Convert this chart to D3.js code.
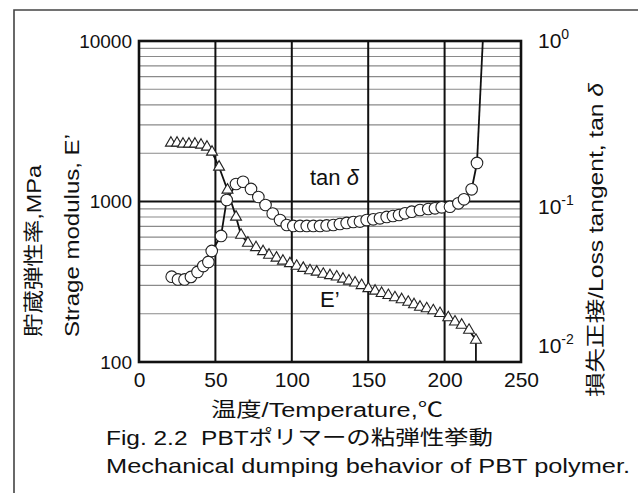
<!DOCTYPE html>
<html>
<head>
<meta charset="utf-8">
<script src="https://cdn.jsdelivr.net/npm/d3@7"></script>
<style>
  html, body { margin: 0; padding: 0; background: #fff; }
  svg { display: block; }
  text { font-family: "Liberation Sans", Arial, "Noto Sans CJK JP", sans-serif; fill: #111; white-space: pre; }
</style>
</head>
<body>
<svg id="chart" width="638" height="493"></svg>
<script>
// Temperature (°C) and storage modulus E' (MPa), triangle markers
const tempE = [20.9, 24.9, 28.8, 32.7, 36.6, 40.6, 44.5, 47.8, 52.4, 57.9, 63.5, 66.8, 71.3, 76.6,
  81.2, 85.1, 90.0, 94.2, 98.8, 103.2, 107.5, 111.9, 116.3, 120.6, 125.0, 129.4, 133.5, 137.4,
  141.4, 145.7, 150.1, 154.5, 158.8, 163.2, 167.5, 171.9, 176.2, 180.0, 183.9, 188.3, 192.6,
  197.0, 202.4, 206.8, 211.2, 216.0, 220.5];
const modulusE = [2315, 2315, 2282, 2282, 2282, 2249, 2186, 2034, 1641, 1180, 801, 618, 551, 517,
  488, 464, 445, 426, 411, 396, 384, 371, 364, 353, 346, 339, 329, 320,
  311, 300, 287, 277, 268, 260, 252, 245, 236, 228, 220, 215, 209,
  201, 189, 178, 170, 158, 137];
// E' trace continues straight down after the last reading
const tailTempE = [220.5, 220.5];
const tailModulusE = [137, 100];

// Temperature (°C) and loss tangent tan δ, circle markers
const tempTan = [21.4, 25.5, 29.8, 34.0, 38.3, 42.1, 45.4, 47.6, 53.7, 57.4, 63.5, 68.1, 73.3, 78.1,
  82.8, 87.5, 92.3, 96.7, 101.0, 105.4, 109.8, 114.1, 118.5, 122.8, 127.2, 131.5, 135.9, 140.3,
  144.6, 149.0, 153.3, 157.7, 162.1, 166.2, 170.2, 174.1, 178.5, 183.9, 189.3, 193.7, 198.1,
  203.5, 209.0, 212.7, 217.7, 221.2];
const tanDelta = [0.0340, 0.0327, 0.0327, 0.0339, 0.0364, 0.0396, 0.0420, 0.0492, 0.0610, 0.1022,
  0.1285, 0.1328, 0.1197, 0.1067, 0.0951, 0.0842, 0.0767, 0.0714, 0.0704, 0.0704, 0.0704, 0.0704,
  0.0704, 0.0709, 0.0714, 0.0724, 0.0735, 0.0745, 0.0750, 0.0767, 0.0774, 0.0786, 0.0801, 0.0812,
  0.0824, 0.0844, 0.0864, 0.0885, 0.0898, 0.0907, 0.0920, 0.0928, 0.0974, 0.1032, 0.1191, 0.1738];
// tan δ trace rises off the top after the last reading
const tailTempTan = [221.2, 225];
const tailTanDelta = [0.1738, 1.0];

// Axis ticks
const xTicks = [0, 50, 100, 150, 200, 250];
const yTicksE = [100, 1000, 10000];
const yTicksTan = [1, 0.1, 0.01];
const tanExponents = ["0", "-1", "-2"];

const svg = d3.select("#chart");

const x = d3.scaleLinear().domain([0, 250]).range([139, 521]);
const yE = d3.scaleLog().domain([100, 10000]).range([362, 41]);
const yT = d3.scaleLog().domain([0.01, 1]).range([362, 41]);

// Page frame (top and left rules)
svg.append("path")
  .attr("d", "M14,493 L14,10 L638,10")
  .attr("fill", "none").attr("stroke", "#444").attr("stroke-width", 1.6);

// Minor horizontal grid (2..9 per decade)
const minor = [];
[100, 1000].forEach(d => { for (let k = 2; k <= 9; k++) minor.push(d * k); });
svg.append("g").selectAll("line").data(minor).join("line")
  .attr("x1", x(0)).attr("x2", x(250))
  .attr("y1", d => yE(d)).attr("y2", d => yE(d))
  .attr("stroke", "#8a8a8a").attr("stroke-width", 1.1);

// Major grid
svg.append("line")
  .attr("x1", x(0)).attr("x2", x(250))
  .attr("y1", yE(1000)).attr("y2", yE(1000))
  .attr("stroke", "#111").attr("stroke-width", 2);
svg.append("g").selectAll("line").data([50, 100, 150, 200]).join("line")
  .attr("x1", d => x(d)).attr("x2", d => x(d))
  .attr("y1", yE(10000)).attr("y2", yE(100))
  .attr("stroke", "#111").attr("stroke-width", 2);

// Plot frame
svg.append("rect")
  .attr("x", x(0)).attr("y", yE(10000))
  .attr("width", x(250) - x(0)).attr("height", yE(100) - yE(10000))
  .attr("fill", "none").attr("stroke", "#111").attr("stroke-width", 2.6);

// Axes
const fmtPlain = d3.format("d");
const gx = svg.append("g").attr("transform", `translate(0,${yE(100)})`)
  .call(d3.axisBottom(x).tickValues(xTicks).tickSize(0).tickPadding(10).tickFormat(fmtPlain));
gx.select(".domain").remove();
gx.selectAll("text").style("font-size", "21px").attr("fill", "#111");

const gy = svg.append("g").attr("transform", `translate(${x(0)},0)`)
  .call(d3.axisLeft(yE).tickValues(yTicksE).tickSize(0).tickPadding(7).tickFormat(fmtPlain));
gy.select(".domain").remove();
gy.selectAll("text").style("font-size", "19px").attr("fill", "#111");

// Right axis: powers of ten
const rightOffsets = [7, 12, -9];
const gr = svg.append("g");
yTicksTan.forEach((v, i) => {
  const t = gr.append("text")
    .attr("x", 538).attr("y", yT(v) + rightOffsets[i])
    .style("font-size", "21px");
  t.append("tspan").text("10");
  t.append("tspan").attr("dy", -9).style("font-size", "14px").text(tanExponents[i]);
});

// Series lines
const lineE = d3.line().x(d => x(d[0])).y(d => yE(d[1]));
const lineT = d3.line().x(d => x(d[0])).y(d => yT(d[1]));
const ptsE = tempE.map((t, i) => [t, modulusE[i]]);
const ptsT = tempTan.map((t, i) => [t, tanDelta[i]]);
const tailE = tailTempE.map((t, i) => [t, tailModulusE[i]]);
const tailT = tailTempTan.map((t, i) => [t, tailTanDelta[i]]);

svg.append("path").attr("d", lineT(ptsT)).attr("fill", "none").attr("stroke", "#111").attr("stroke-width", 1.8);
svg.append("path").attr("d", lineT(tailT)).attr("fill", "none").attr("stroke", "#111").attr("stroke-width", 1.8);
svg.append("path").attr("d", lineE(ptsE)).attr("fill", "none").attr("stroke", "#111").attr("stroke-width", 1.8);
svg.append("path").attr("d", lineE(tailE)).attr("fill", "none").attr("stroke", "#111").attr("stroke-width", 1.8);

// Markers
svg.append("g").selectAll("circle").data(ptsT).join("circle")
  .attr("cx", d => x(d[0])).attr("cy", d => yT(d[1])).attr("r", 5.8)
  .attr("fill", "#fff").attr("stroke", "#222").attr("stroke-width", 1.1);

const tri = d3.symbol(d3.symbolTriangle, 52);
svg.append("g").selectAll("path").data(ptsE).join("path")
  .attr("transform", d => `translate(${x(d[0])},${yE(d[1])})`)
  .attr("d", tri)
  .attr("fill", "#fff").attr("stroke", "#222").attr("stroke-width", 1.1);

// In-plot series labels
const lt = svg.append("text").attr("x", 310).attr("y", 185).style("font-size", "22px");
lt.append("tspan").text("tan ");
lt.append("tspan").style("font-style", "italic").text("δ");
svg.append("text").attr("x", 320).attr("y", 307).style("font-size", "22px").text("E’");

// Axis titles
svg.append("text").attr("x", 211).attr("y", 417).style("font-size", "20px")
  .attr("textLength", 232).attr("lengthAdjust", "spacingAndGlyphs")
  .text("温度/Temperature,℃");

svg.append("text").attr("transform", "translate(41,337) rotate(-90)").style("font-size", "20px")
  .attr("textLength", 172).attr("lengthAdjust", "spacingAndGlyphs")
  .text("貯蔵弾性率,MPa");
svg.append("text").attr("transform", "translate(79,337) rotate(-90)").style("font-size", "21px")
  .attr("textLength", 203).attr("lengthAdjust", "spacingAndGlyphs")
  .text("Strage modulus, E’");

const rt = svg.append("text").attr("transform", "translate(603,397) rotate(-90)").style("font-size", "20px")
  .attr("textLength", 314).attr("lengthAdjust", "spacingAndGlyphs");
rt.append("tspan").text("損失正接/Loss tangent, tan ");
rt.append("tspan").style("font-style", "italic").text("δ");

// Caption
svg.append("text").attr("x", 106).attr("y", 445).style("font-size", "20px")
  .attr("textLength", 387).attr("lengthAdjust", "spacingAndGlyphs")
  .text("Fig. 2.2\u00a0\u00a0PBTポリマーの粘弾性挙動");
svg.append("text").attr("x", 106).attr("y", 473).style("font-size", "21px")
  .attr("textLength", 524).attr("lengthAdjust", "spacingAndGlyphs")
  .text("Mechanical dumping behavior of PBT polymer.");
</script>
</body>
</html>
